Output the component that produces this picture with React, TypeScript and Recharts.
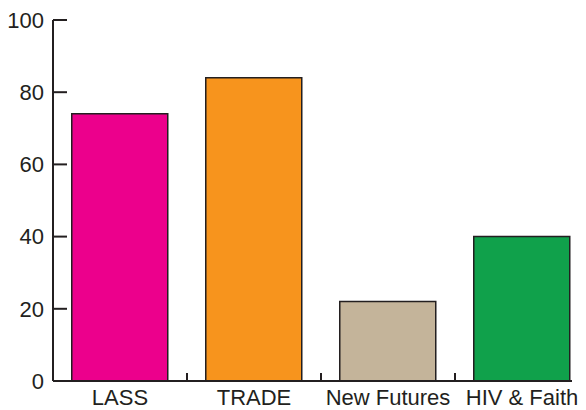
import { Bar, BarChart, Cell, XAxis, YAxis } from "recharts";

const categories = ["LASS", "TRADE", "New Futures", "HIV & Faith"];
const scores = [74, 84, 22, 40];
const barColors = ["#ec008c", "#f7941d", "#c4b49a", "#10a14b"];
const yTicks = [0, 20, 40, 60, 80, 100];

const INK = "#231f20";
const FONT = "'Liberation Sans', Arial, sans-serif";

const data = categories.map((name, i) => ({ name, value: scores[i] }));

function CategoryTick(props: any) {
  const { x, y, payload, index } = props;
  const half = payload?.offset ?? 67;
  const axisY = y - 9;
  return (
    <g>
      {index < categories.length - 1 && (
        <line
          x1={x + half}
          x2={x + half}
          y1={axisY}
          y2={axisY - 8}
          stroke={INK}
          strokeWidth={2}
        />
      )}
      <text
        x={x}
        y={axisY + 24}
        textAnchor="middle"
        fill={INK}
        fontSize={22}
        fontFamily={FONT}
      >
        {payload.value}
      </text>
    </g>
  );
}

export default function App() {
  return (
    <div style={{ position: "absolute", left: 0, top: 0, width: 586, height: 410, background: "#fff" }}>
      <BarChart
        width={586}
        height={410}
        data={data}
        margin={{ top: 20, right: 14, bottom: 0, left: 0 }}
        barCategoryGap="14%"
      >
        <XAxis
          dataKey="name"
          height={29}
          padding={{ left: 0, right: -17 }}
          axisLine={{ stroke: INK, strokeWidth: 2 }}
          tickLine={false}
          tickSize={0}
          tickMargin={9}
          interval={0}
          tick={<CategoryTick />}
        />
        <YAxis
          width={53}
          domain={[0, 100]}
          ticks={yTicks}
          interval={0}
          axisLine={{ stroke: INK, strokeWidth: 2 }}
          tickLine={{ stroke: INK, strokeWidth: 2 }}
          tickSize={-14}
          tickMargin={23}
          tick={{ fill: INK, fontSize: 22, fontFamily: FONT }}
        />
        <Bar dataKey="value" isAnimationActive={false} stroke={INK} strokeWidth={1.5}>
          {data.map((entry, i) => (
            <Cell key={entry.name} fill={barColors[i]} />
          ))}
        </Bar>
      </BarChart>
    </div>
  );
}
